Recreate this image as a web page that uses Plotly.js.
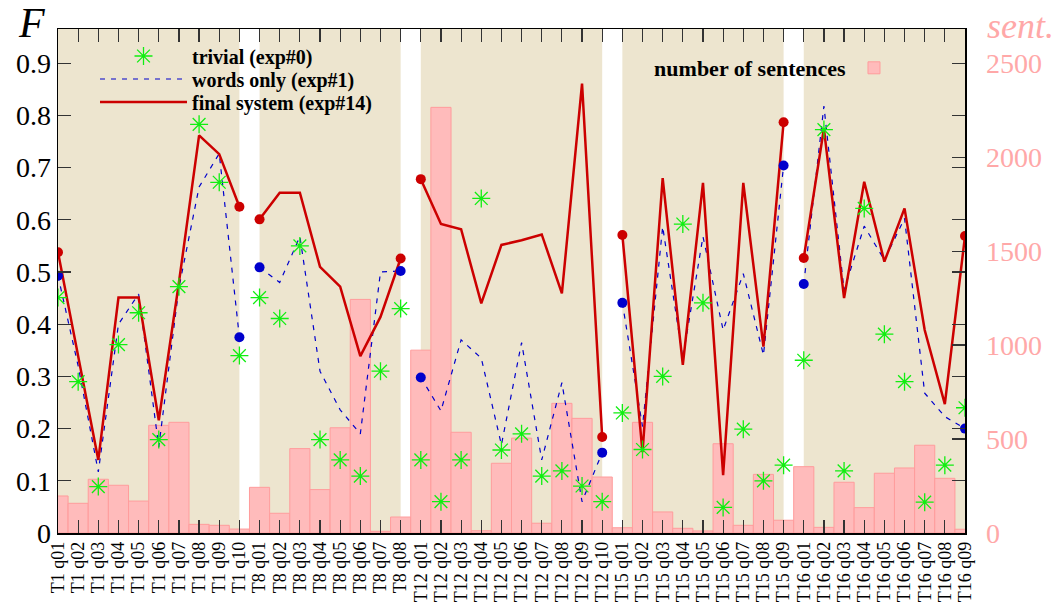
<!DOCTYPE html>
<html><head><meta charset="utf-8">
<script src="https://cdn.plot.ly/plotly-3.0.1.min.js"></script>
<style>html,body{margin:0;padding:0;background:#fff}#chart{width:1057px;height:605px}</style>
</head><body><div id="chart"></div>
<script>
const groupNames = ['T1','T8','T12','T15','T16'];
const groupSizes = [10, 8, 10, 9, 9];

const trivial = [
  0.451, 0.290, 0.089, 0.361, 0.422, 0.179, 0.472, 0.783, 0.672, 0.340,
  0.451, 0.411, 0.550, 0.179, 0.140, 0.109, 0.310, 0.430,
  0.140, 0.060, 0.140, 0.641, 0.159, 0.190, 0.109, 0.119, 0.090, 0.060,
  0.230, 0.160, 0.300, 0.592, 0.441, 0.049, 0.199, 0.100, 0.130,
  0.331, 0.773, 0.119, 0.622, 0.381, 0.290, 0.059, 0.130, 0.240
];
const wordsOnly = [
  0.493, 0.320, 0.117, 0.400, 0.458, 0.165, 0.470, 0.663, 0.727, 0.375,
  0.509, 0.480, 0.568, 0.310, 0.236, 0.190, 0.500, 0.502,
  0.298, 0.234, 0.370, 0.335, 0.169, 0.365, 0.140, 0.288, 0.060, 0.154,
  0.441, 0.204, 0.587, 0.335, 0.568, 0.389, 0.497, 0.341, 0.704,
  0.477, 0.818, 0.465, 0.588, 0.523, 0.603, 0.268, 0.223, 0.200
];
const finalSystem = [
  0.538, 0.340, 0.140, 0.451, 0.451, 0.216, 0.480, 0.762, 0.726, 0.625,
  0.601, 0.652, 0.652, 0.510, 0.472, 0.339, 0.414, 0.526,
  0.678, 0.592, 0.582, 0.440, 0.552, 0.561, 0.572, 0.459, 0.861, 0.184,
  0.571, 0.155, 0.680, 0.322, 0.671, 0.111, 0.671, 0.357, 0.787,
  0.527, 0.775, 0.450, 0.673, 0.520, 0.622, 0.389, 0.247, 0.569
];
const sentences = [
  197, 158, 286, 254, 170, 573, 589, 46, 41, 21,
  243, 105, 449, 231, 560, 1243, 9, 85,
  973, 2265, 536, 12, 371, 505, 52, 690, 610, 298,
  28, 589, 112, 25, 11, 475, 41, 312, 68,
  353, 30, 270, 135, 318, 346, 467, 291, 20
];

// category labels and group membership
const labels = [], groupOf = [];
groupNames.forEach((g, gi) => {
  for (let k = 1; k <= groupSizes[gi]; k++) {
    labels.push(g + ' q' + String(k).padStart(2, '0'));
    groupOf.push(gi);
  }
});
const xs = labels.map((_, i) => i);

function brokenLine(vals) {
  const x = [], y = [];
  vals.forEach((v, i) => {
    x.push(i); y.push(v);
    if (i < vals.length - 1 && groupOf[i + 1] !== groupOf[i]) { x.push(null); y.push(null); }
  });
  return {x, y};
}
const endIdx = xs.filter(i => i === 0 || i === xs.length - 1 || groupOf[i - 1] !== groupOf[i] || groupOf[i + 1] !== groupOf[i]);

const serif = 'Liberation Serif, Times New Roman, serif';
const red = '#cc0000', blue = '#0000cc';
const countMax = 2682, fMax = 0.9657;

const bw = brokenLine(wordsOnly), bf = brokenLine(finalSystem);
const traces = [
  {type: 'bar', x: xs, y: sentences, yaxis: 'y', width: 1, name: '',
   marker: {color: '#ffbbbb', line: {color: '#ff9c9c', width: 1}},
   legend: 'legend2', hoverinfo: 'y'},
  {type: 'scatter', mode: 'lines', x: bw.x, y: bw.y, yaxis: 'y2', name: 'words only (exp#1)',
   line: {color: blue, width: 1.2, dash: '5px,6px'}, connectgaps: false, legend: 'legend3'},
  {type: 'scatter', mode: 'lines', x: bf.x, y: bf.y, yaxis: 'y2', name: 'final system (exp#14)',
   line: {color: red, width: 2.5}, connectgaps: false, legend: 'legend4'},
  {type: 'scatter', mode: 'markers', x: endIdx, y: endIdx.map(i => wordsOnly[i]), yaxis: 'y2',
   marker: {color: blue, size: 10}, showlegend: false},
  {type: 'scatter', mode: 'markers', x: endIdx, y: endIdx.map(i => finalSystem[i]), yaxis: 'y2',
   marker: {color: red, size: 10}, showlegend: false},
  {type: 'scatter', mode: 'markers', x: xs, y: trivial, yaxis: 'y2', name: 'trivial (exp#0)',
   marker: {symbol: 'asterisk-open', size: 15, color: '#11ee11', line: {color: '#11ee11', width: 1.3}},
   legend: 'legend'}
];

// beige band per topic group
const shapes = [];
let start = 0;
groupSizes.forEach(n => {
  shapes.push({type: 'rect', xref: 'x', yref: 'y', x0: start, x1: start + n - 1, y0: 0, y1: countMax,
    fillcolor: '#ede5cf', line: {width: 0}, layer: 'below'});
  start += n;
});

const legFont = {family: serif, size: 20, weight: 'bold', color: '#000'};
function leg(yc) {
  return {x: 0.0408, y: yc, xanchor: 'left', yanchor: 'middle', bgcolor: 'rgba(0,0,0,0)',
    itemwidth: 87, font: legFont};
}
const tickCol = '#333';

const layout = {
  width: 1057, height: 605,
  margin: {l: 58, r: 92, t: 29, b: 72},
  plot_bgcolor: '#ffffff', paper_bgcolor: '#ffffff',
  font: {family: serif, color: '#000'},
  showlegend: true,
  xaxis: {range: [0, xs.length - 1], tickvals: xs, ticktext: labels, tickangle: -90,
    ticks: 'inside', ticklen: 13, tickwidth: 1.2, tickcolor: tickCol, mirror: 'ticks', showline: true,
    linecolor: '#000', linewidth: 1.5, showgrid: false, zeroline: false,
    tickfont: {family: serif, size: 18, color: '#000'}},
  yaxis: {side: 'right', range: [0, countMax], tick0: 0, dtick: 500, ticks: 'inside', ticklen: 13,
    tickwidth: 1.2, tickcolor: tickCol, showline: true, linecolor: '#000', linewidth: 1.5, showgrid: false,
    zeroline: false,
    ticklabelstandoff: 14, tickfont: {family: serif, size: 28, color: '#ffa8a8'}},
  yaxis2: {overlaying: 'y', side: 'left', range: [0, fMax], tick0: 0, dtick: 0.1, ticks: 'inside',
    ticklen: 13, tickwidth: 1.2, tickcolor: tickCol, mirror: 'ticks', showline: true, linecolor: '#000',
    linewidth: 1.5, showgrid: false, zeroline: false,
    tickfont: {family: serif, size: 28, color: '#000'}},
  legend: leg(0.9464),
  legend3: leg(0.9008),
  legend4: leg(0.8552),
  legend2: {x: 0.655, y: 0.9226, xanchor: 'left', yanchor: 'middle', bgcolor: 'rgba(0,0,0,0)',
    title: {text: 'number of sentences', side: 'left', font: {family: serif, size: 22, weight: 'bold', color: '#000'}},
    font: {family: serif, size: 22, color: '#000'}, itemwidth: 30},
  shapes: shapes,
  annotations: [
    {text: 'F', xref: 'paper', yref: 'paper', x: -0.029, y: 1.012, xanchor: 'center', yanchor: 'middle',
     showarrow: false, font: {family: serif, size: 42, style: 'italic', color: '#000'}},
    {text: 'sent.', xref: 'paper', yref: 'paper', x: 1.061, y: 1.006, xanchor: 'center', yanchor: 'middle',
     showarrow: false, font: {family: serif, size: 36, style: 'italic', color: '#ffa8a8'}}
  ]
};

Plotly.newPlot('chart', traces, layout, {displayModeBar: false, staticPlot: true});
</script></body></html>
